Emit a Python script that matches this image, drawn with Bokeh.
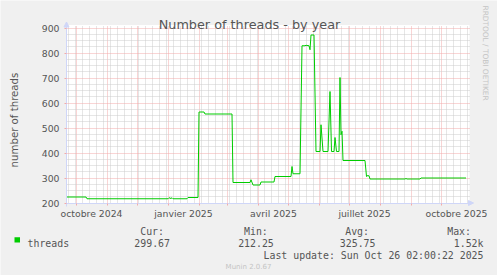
import datetime as dt
from math import pi
from bokeh.plotting import figure
from bokeh.models import (FixedTicker, Range1d, Label, Arrow, NormalHead, BoxAnnotation,
                          LinearAxis, Grid)
from bokeh.embed import file_html
from bokeh.resources import INLINE

# ---- data (x = days since 2024-10-01) ----
days = [-9.5, 10, 11, 92, 93, 95, 96, 97, 111, 112, 122, 123, 128, 129, 156, 157,
        174, 175, 177, 184, 185, 198, 199, 215, 216, 217, 224, 226, 229, 230, 233,
        234, 235, 238, 240, 244, 245, 247, 252, 254, 255.5, 258, 259, 260.5, 263,
        264, 265, 266, 267, 289, 290.5, 291, 293, 294, 329, 330, 331, 344, 345, 390]
threads = [224, 224, 217, 217, 221, 218, 221, 217, 217, 222, 222, 564, 564, 556, 556, 282,
           282, 293, 272, 272, 284, 284, 306, 306, 346, 317, 317, 829, 829, 831, 829,
           813, 872, 872, 406, 406, 513, 406, 406, 646, 406, 406, 462, 406, 406,
           702, 473, 487, 370, 370, 306, 309, 309, 296, 296, 298, 296, 296, 300, 300]

x_labels = ["octobre 2024", "janvier 2025", "avril 2025", "juillet 2025", "octobre 2025"]
label_months = [(2024, 10), (2025, 1), (2025, 4), (2025, 7), (2025, 10)]
y_major = [200, 300, 400, 500, 600, 700, 800, 900]
y_minor = [v for v in range(200, 901, 25) if v % 100]

title = "Number of threads - by year"
y_title = "number of threads"
side_text = "RRDTOOL / TOBI OETIKER"
legend_name = "threads"
stat_heads = ["Cur:", "Min:", "Avg:", "Max:"]
stat_vals = ["299.67", "212.25", "325.75", "1.52k"]
last_update = "Last update: Sun Oct 26 02:00:22 2025"
footer = "Munin 2.0.67"

origin = dt.date(2024, 10, 1)
def dnum(d):
    return float((d - origin).days)

month_days = []
yy, mm = 2024, 10
while True:
    d = dnum(dt.date(yy, mm, 1))
    if d > 393:
        break
    month_days.append(d)
    mm += 1
    if mm > 12:
        mm = 1
        yy += 1
week_days = [-8.0 + 7 * i for i in range(60) if -8.0 + 7 * i < 393]
week_days = [w for w in week_days if w not in month_days]
label_days = [dnum(dt.date(a, b, 1)) + 15.5 for a, b in label_months]

# ---- canvas: the frame covers the whole page; data ranges map 1 day = 1 px ----
W, H = 497, 275
X0, X1 = -9.5, 393.5          # plot area in days
Y0, Y1 = 200, 912             # plot area in threads
YTOP = 1010                   # value at the top edge of the page (4 threads per px)
p = figure(width=W, height=H, output_backend="svg", toolbar_location=None,
           x_axis_type=None, y_axis_type=None,
           x_range=Range1d(-75.5, W - 75.5), y_range=Range1d(YTOP - 4 * H, YTOP),
           min_border=0, min_border_left=0, min_border_right=0,
           min_border_top=0, min_border_bottom=0,
           background_fill_color="#F0F0F0", border_fill_color="#F0F0F0")
p.outline_line_color = None

def px(xp):
    return xp - 75.5
def py(yp):
    return YTOP - 4 * yp

MG = "#F2AAAA"
MIN_G = "#CCCCCC"
AX = "#CFD6F8"
FONT = "#555555"

# white plotting canvas
p.add_layout(BoxAnnotation(left=X0, right=X1, bottom=Y0, top=Y1, fill_color="#FFFFFF",
                           fill_alpha=1, line_color=None, level="image"))

# grids
xg_t = FixedTicker(ticks=month_days, minor_ticks=week_days)
yg_t = FixedTicker(ticks=y_major, minor_ticks=y_minor)
grid_style = dict(grid_line_color=MG, grid_line_dash="1 1", grid_line_width=1,
                  minor_grid_line_color=MIN_G, minor_grid_line_dash="1 1",
                  minor_grid_line_width=1)
try:
    gx = Grid(dimension=0, ticker=xg_t, bounds=(X0, X1), cross_bounds=(Y0, Y1), **grid_style)
    gy = Grid(dimension=1, ticker=yg_t, bounds=(Y0, Y1), cross_bounds=(X0, X1), **grid_style)
    p.add_layout(gx)
    p.add_layout(gy)
except AttributeError:
    p.segment(x0=week_days, y0=[Y0] * len(week_days), x1=week_days, y1=[Y1] * len(week_days),
              line_color=MIN_G, line_dash="1 1", level="underlay")
    p.segment(x0=[X0] * len(y_minor), y0=y_minor, x1=[X1] * len(y_minor), y1=y_minor,
              line_color=MIN_G, line_dash="1 1", level="underlay")
    p.segment(x0=month_days, y0=[Y0] * len(month_days), x1=month_days, y1=[Y1] * len(month_days),
              line_color=MG, line_dash="1 1", level="underlay")
    p.segment(x0=[X0] * len(y_major), y0=y_major, x1=[X1] * len(y_major), y1=y_major,
              line_color=MG, line_dash="1 1", level="underlay")

# axes drawn at fixed locations
xaxis = LinearAxis(fixed_location=Y0, bounds=(X0 - 0.5, X1 - 1),
                   ticker=FixedTicker(ticks=label_days, minor_ticks=month_days))
xaxis.major_label_overrides = {d: t for d, t in zip(label_days, x_labels)}
xaxis.major_tick_out = 0
xaxis.major_tick_in = 0
xaxis.minor_tick_out = 2
xaxis.minor_tick_in = 0
xaxis.minor_tick_line_color = MG
xaxis.major_label_standoff = 3
yaxis = LinearAxis(fixed_location=X0, bounds=(Y0 - 14, Y1),
                   ticker=FixedTicker(ticks=y_major, minor_ticks=[]))
yaxis.major_tick_out = 2
yaxis.major_tick_in = 0
yaxis.major_tick_line_color = MG
yaxis.minor_tick_line_color = None
yaxis.major_label_standoff = 5
for ax in (xaxis, yaxis):
    ax.axis_line_color = AX
    ax.major_label_text_font = "DejaVu Sans"
    ax.major_label_text_font_size = "9.3px"
    ax.major_label_text_color = FONT
p.add_layout(xaxis, "below")
p.add_layout(yaxis, "left")

p.line(days, threads, line_color="#00CC00", line_width=1)

# axis arrows
p.add_layout(Arrow(x_start=X1 - 1, y_start=Y0, x_end=X1 + 4, y_end=Y0,
                   line_color=AX, line_width=1,
                   end=NormalHead(size=5, fill_color=AX, line_color=AX)))
p.add_layout(Arrow(x_start=X0, y_start=Y1, x_end=X0, y_end=py(21.5),
                   line_color=AX, line_width=1,
                   end=NormalHead(size=5, fill_color=AX, line_color=AX)))

def lab(x, y, text, size, color=FONT, font="DejaVu Sans", align="left",
        baseline="alphabetic", angle=0):
    p.add_layout(Label(x=x, y=y, text=text, text_font=font, text_font_size=size,
                       text_color=color, text_align=align, text_baseline=baseline,
                       angle=angle))

lab(px(249), py(23.5), title, "12.8px", align="center")
lab(px(13.5), py(119.5), y_title, "10.2px", align="center", angle=pi / 2)
lab(px(485), py(5), side_text, "7.4px", color="#C4C4C4", angle=-pi / 2)

p.add_layout(BoxAnnotation(left=px(14), right=px(19.5), top=py(236.7), bottom=py(242),
                           fill_color="#00CC00", fill_alpha=1, line_color=None))
MONO = "DejaVu Sans Mono"
MS = "9.9px"
lab(px(27), py(242.7), legend_name, MS, font=MONO)
head_right = [163.5, 267.3, 368.5, 470.5]
val_right = [169.5, 273.3, 375, 483]
for h, v, hr, vr in zip(stat_heads, stat_vals, head_right, val_right):
    lab(px(hr), py(231), h, MS, font=MONO, align="right")
    lab(px(vr), py(242.7), v, MS, font=MONO, align="right")
lab(px(483), py(255), last_update, MS, font=MONO, align="right")
lab(px(248), py(266.5), footer, "7px", color="#C4C4C4", align="center")

open("out.html", "w").write(file_html(p, INLINE))
